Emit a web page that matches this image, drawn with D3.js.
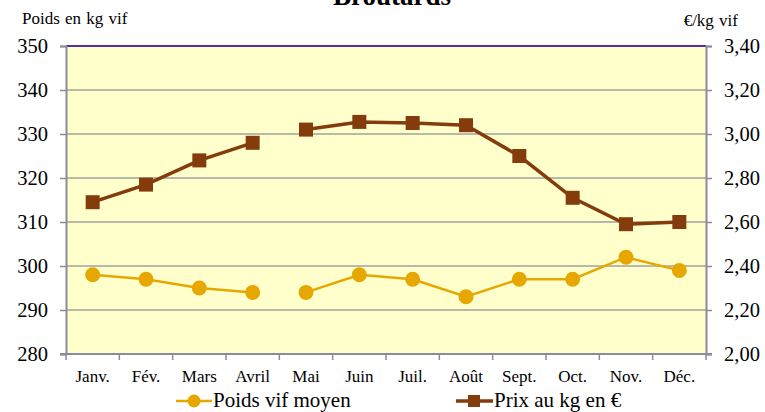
<!DOCTYPE html>
<html>
<head>
<meta charset="utf-8">
<script src="https://cdn.jsdelivr.net/npm/d3@7"></script>
<style>
  html, body { margin: 0; padding: 0; background: #ffffff; }
  svg, svg text { font-family: "Liberation Serif", "Times New Roman", serif !important; }
</style>
</head>
<body>
<div id="chart"></div>
<script>
// ---- data ----
const title = "Broutards";
const months = ["Janv.", "Fév.", "Mars", "Avril", "Mai", "Juin", "Juil.", "Août", "Sept.", "Oct.", "Nov.", "Déc."];
const poidsVif = [298, 297, 295, 294, 294, 298, 297, 293, 297, 297, 302, 299];
const prixKg = [2.69, 2.77, 2.88, 2.96, 3.02, 3.055, 3.05, 3.04, 2.90, 2.71, 2.59, 2.60];
const leftTicks = [280, 290, 300, 310, 320, 330, 340, 350];
const rightTicks = [2.00, 2.20, 2.40, 2.60, 2.80, 3.00, 3.20, 3.40];
const seriesNames = ["Poids vif moyen", "Prix au kg en €"];
const leftAxisTitle = "Poids en kg vif";
const rightAxisTitle = "€/kg vif";
const breakAfterIndex = 3; // lines are not joined between Avril and Mai

// ---- layout ----
const W = 765, H = 412;
const plot = { left: 66, right: 706, top: 46, bottom: 354 };
const colPoids = "#E6A800", colPrix = "#843C0C";

const svg = d3.select("#chart").append("svg").attr("width", W).attr("height", H);

const x = d3.scaleBand().domain(months).range([plot.left, plot.right]).padding(0);
const yL = d3.scaleLinear().domain([280, 350]).range([plot.bottom, plot.top]);
const yR = d3.scaleLinear().domain([2.0, 3.4]).range([plot.bottom, plot.top]);
const cx = m => x(m) + x.bandwidth() / 2;

// plot background
svg.append("rect").attr("x", plot.left).attr("y", plot.top)
  .attr("width", plot.right - plot.left).attr("height", plot.bottom - plot.top)
  .attr("fill", "#FFFFCC");

// gridlines
svg.append("g").selectAll("line").data(leftTicks.filter(t => t !== 280)).join("line")
  .attr("x1", plot.left).attr("x2", plot.right)
  .attr("y1", d => yL(d)).attr("y2", d => yL(d))
  .attr("stroke", d => d === 350 ? "#5B2C9F" : "#A0A0A0")
  .attr("stroke-width", d => d === 350 ? 2 : 1.5);

const axisCol = "#8E8A9C";
// left axis
const gL = svg.append("g").attr("transform", `translate(${plot.left},0)`)
  .call(d3.axisLeft(yL).tickValues(leftTicks).tickSize(6).tickPadding(12).tickFormat(d3.format("d")));
// right axis
const gR = svg.append("g").attr("transform", `translate(${plot.right},0)`)
  .call(d3.axisRight(yR).tickValues(rightTicks).tickSize(6).tickPadding(12)
    .tickFormat(d => d.toFixed(2).replace(".", ",")));
[gL, gR].forEach(g => {
  g.attr("font-family", null);
  g.select(".domain").attr("stroke", axisCol).attr("stroke-width", 2);
  g.selectAll(".tick line").attr("stroke", axisCol).attr("stroke-width", 1.5);
  g.selectAll(".tick text").attr("font-size", 20.5).attr("fill", "#000");
});

// bottom axis
const gB = svg.append("g");
gB.append("line").attr("x1", plot.left - 6).attr("x2", plot.right + 6)
  .attr("y1", plot.bottom).attr("y2", plot.bottom)
  .attr("stroke", axisCol).attr("stroke-width", 2);
const boundaries = months.map(m => x(m)).concat([plot.right]);
gB.selectAll("line.tk").data(boundaries).join("line").attr("class", "tk")
  .attr("x1", d => d).attr("x2", d => d)
  .attr("y1", plot.bottom).attr("y2", plot.bottom + 6)
  .attr("stroke", axisCol).attr("stroke-width", 1.5);
gB.selectAll("text").data(months).join("text")
  .attr("x", d => cx(d)).attr("y", 382)
  .attr("text-anchor", "middle").attr("font-size", 17).attr("fill", "#000")
  .text(d => d);

// series lines (split in two segments)
function segs(values) {
  const pts = months.map((m, i) => ({ m, v: values[i], i }));
  return [pts.filter(p => p.i <= breakAfterIndex), pts.filter(p => p.i > breakAfterIndex)];
}
const linePoids = d3.line().x(d => cx(d.m)).y(d => yL(d.v));
const linePrix = d3.line().x(d => cx(d.m)).y(d => yR(d.v));

svg.append("g").selectAll("path").data(segs(poidsVif)).join("path")
  .attr("d", linePoids).attr("fill", "none").attr("stroke", colPoids).attr("stroke-width", 2.5);
svg.append("g").selectAll("circle").data(poidsVif).join("circle")
  .attr("cx", (d, i) => cx(months[i])).attr("cy", d => yL(d)).attr("r", 7.5)
  .attr("fill", colPoids);

svg.append("g").selectAll("path").data(segs(prixKg)).join("path")
  .attr("d", linePrix).attr("fill", "none").attr("stroke", colPrix).attr("stroke-width", 3.5);
const sq = 14;
svg.append("g").selectAll("rect").data(prixKg).join("rect")
  .attr("x", (d, i) => cx(months[i]) - sq / 2).attr("y", d => yR(d) - sq / 2)
  .attr("width", sq).attr("height", sq).attr("fill", colPrix);

// titles
svg.append("text").attr("x", 392).attr("y", 5).attr("text-anchor", "middle")
  .attr("font-size", 27).attr("font-weight", "bold").attr("fill", "#000").text(title);
svg.append("text").attr("x", 22).attr("y", 24).attr("font-size", 17).attr("fill", "#000")
  .attr("word-spacing", 1).text(leftAxisTitle);
svg.append("text").attr("x", 738).attr("y", 26).attr("text-anchor", "end")
  .attr("font-size", 17).attr("fill", "#000").attr("word-spacing", 1).text(rightAxisTitle);

// legend
const lg = svg.append("g");
lg.append("line").attr("x1", 176).attr("x2", 212).attr("y1", 401).attr("y2", 401)
  .attr("stroke", colPoids).attr("stroke-width", 2.5);
lg.append("circle").attr("cx", 194).attr("cy", 401).attr("r", 6.5).attr("fill", colPoids);
lg.append("text").attr("x", 213).attr("y", 407).attr("font-size", 21).attr("fill", "#000").text(seriesNames[0]);
lg.append("line").attr("x1", 456).attr("x2", 493).attr("y1", 401).attr("y2", 401)
  .attr("stroke", colPrix).attr("stroke-width", 3.5);
lg.append("rect").attr("x", 468).attr("y", 395).attr("width", 12).attr("height", 12).attr("fill", colPrix);
lg.append("text").attr("x", 494).attr("y", 407).attr("font-size", 21).attr("fill", "#000")
  .text(seriesNames[1]);
</script>
</body>
</html>
